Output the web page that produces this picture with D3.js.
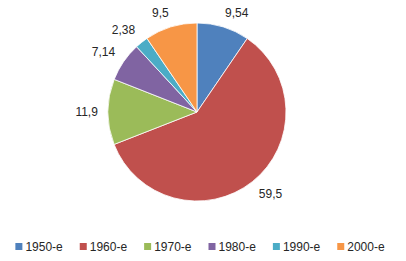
<!DOCTYPE html>
<html><head><meta charset="utf-8">
<script src="https://cdn.jsdelivr.net/npm/d3@7"></script>
<style>body{margin:0;background:#fff;}svg{display:block;}</style>
</head><body>
<svg id="c" width="406" height="261"></svg>
<script>
const categories = ["1950-е","1960-е","1970-е","1980-е","1990-е","2000-е"];
const values = [9.54, 59.5, 11.9, 7.14, 2.38, 9.5];
const colors = ["#4F81BD","#C0504D","#9BBB59","#8064A2","#4BACC6","#F79646"];

const svg = d3.select("#c");
const W = 406, H = 261;
const cx = 197, cy = 112, R = 89, gap = 10;
const font = "'Liberation Sans', Arial, sans-serif";

const data = categories.map((c,i)=>({cat:c, value:values[i], color:colors[i]}));
const pie = d3.pie().sort(null).value(d=>d.value);
const arcs = pie(data);
const arc = d3.arc().innerRadius(0).outerRadius(R);

const g = svg.append("g").attr("transform", `translate(${cx},${cy})`);
g.selectAll("path").data(arcs).join("path")
  .attr("d", arc).attr("fill", d=>d.data.color)
  .attr("stroke", "#fff").attr("stroke-width", 0.8);

const clamp = v => Math.max(-1, Math.min(1, v));
g.selectAll("text.lbl").data(arcs).join("text")
  .attr("class","lbl")
  .attr("font-family", font).attr("font-size", 12).attr("fill", "#262626")
  .attr("text-anchor","middle").attr("dominant-baseline","central")
  .text(d => String(d.data.value).replace(".", ","))
  .each(function(d){
    const t = d3.select(this);
    const bb = this.getBBox();
    const w = bb.width, h = 9;
    const a = (d.startAngle + d.endAngle)/2;
    const s = Math.sin(a), c = -Math.cos(a);
    const px = (R+gap)*s, py = (R+gap)*c;
    const fx = clamp(s*3), fy = clamp(c*3);
    t.attr("x", px + fx*w/2).attr("y", py + fy*h/2);
  });

// legend
const leg = svg.append("g");
const items = leg.selectAll("g").data(data).join("g");
items.append("rect").attr("width",7).attr("height",7).attr("fill", d=>d.color);
items.append("text").attr("x",10).attr("y",3.5).attr("dominant-baseline","central")
  .attr("font-family", font).attr("font-size", 12).attr("fill","#262626")
  .text(d=>d.cat);
let x = 0; const spacing = 17;
const pos = [];
items.each(function(){
  const w = 10 + d3.select(this).select("text").node().getComputedTextLength();
  pos.push(x); x += w + spacing;
});
const total = x - spacing;
const x0 = 200 - total/2;
items.attr("transform", (d,i)=>`translate(${x0+pos[i]},${243})`);
</script>
</body></html>
